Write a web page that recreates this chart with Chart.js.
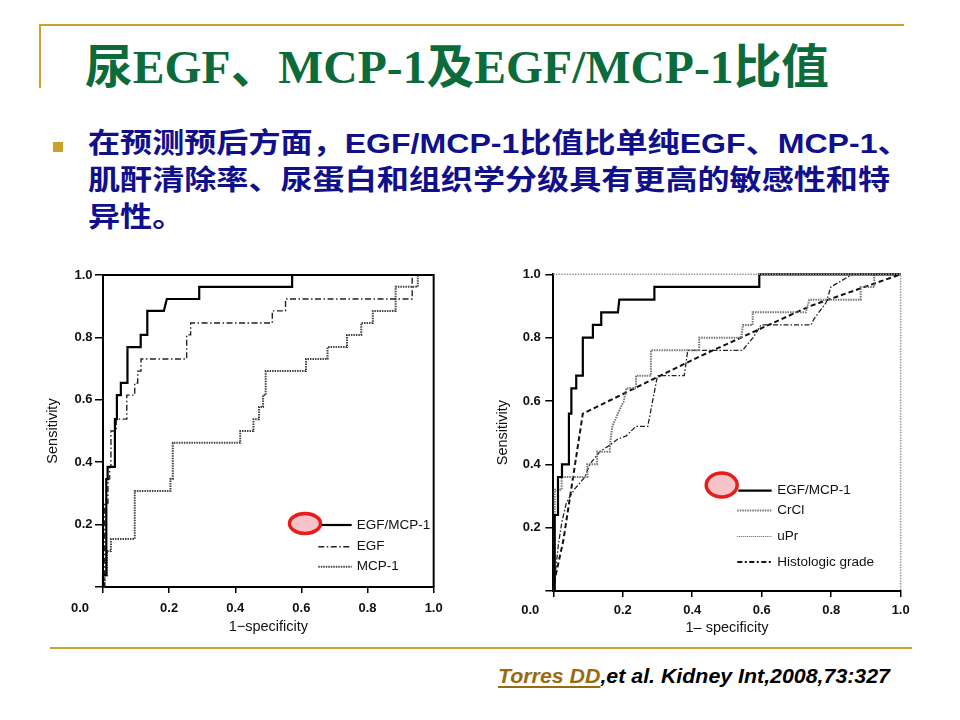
<!DOCTYPE html>
<html><head><meta charset="utf-8">
<script src="https://cdn.jsdelivr.net/npm/chart.js@4.4.1/dist/chart.umd.min.js"></script>
<style>
html,body{margin:0;padding:0;background:#fff;}
#slide{position:relative;width:960px;height:720px;overflow:hidden;background:#fff;font-family:"Liberation Sans",Arial,"Noto Sans CJK SC",sans-serif;}
.hline{position:absolute;height:2px;background:#c9a42c;}
.vline{position:absolute;width:2px;background:#c9a42c;}
#title{position:absolute;left:85px;top:39px;font-family:"Liberation Serif","Times New Roman","Noto Sans CJK SC",serif;font-weight:bold;font-size:47px;line-height:56px;color:#0b6b3b;white-space:nowrap;transform-origin:0 0;}
#bullet{position:absolute;left:53px;top:142px;width:10px;height:10px;background:#c9a22a;}
.body{position:absolute;left:88px;font-weight:bold;font-size:28px;line-height:37px;height:37px;color:#10108c;white-space:nowrap;transform-origin:0 0;font-family:"Liberation Sans",Arial,"Noto Sans CJK SC",sans-serif;}
#cite{position:absolute;left:498px;top:664px;font-size:20px;line-height:24px;font-weight:bold;font-style:italic;white-space:nowrap;color:#000;transform-origin:0 0;}
#cite u{color:#9a6a10;text-decoration-thickness:1.5px;text-underline-offset:3px;}
.cwrap{position:absolute;}
</style></head>
<body><div id="slide">
<div class="hline" style="left:40px;top:24px;width:864px;"></div>
<div class="vline" style="left:39px;top:24px;height:64px;"></div>
<div id="title">尿EGF、MCP-1及EGF/MCP-1比值</div>
<div id="bullet"></div>
<div class="body" id="b1" style="top:125px;">在预测预后方面，EGF/MCP-1比值比单纯EGF、MCP-1、</div>
<div class="body" id="b2" style="top:162px;">肌酐清除率、尿蛋白和组织学分级具有更高的敏感性和特</div>
<div class="body" id="b3" style="top:199px;">异性。</div>
<div class="cwrap" style="left:40px;top:262px;"><canvas id="cL" width="410" height="380"></canvas></div>
<div class="cwrap" style="left:490px;top:262px;"><canvas id="cR" width="425" height="380"></canvas></div>
<div class="hline" style="left:50px;top:647px;width:862px;"></div>
<div id="cite"><u>Torres DD</u>,et al. Kidney Int,2008,73:327</div>
</div>
<script>
// ---------- data ----------
const tickLabels = ['0.0','0.2','0.4','0.6','0.8','1.0'];
const xTitleL = '1\u2212specificity';
const xTitleR = '1\u2013 specificity';
const yTitle = 'Sensitivity';

// Left chart
const leftRatioFpr = [0,0,0.01,0.01,0.014,0.014,0.036,0.036,0.042,0.042,0.054,0.054,0.074,0.074,0.114,0.114,0.134,0.134,0.184,0.193,0.291,0.291,0.572,0.572,1.0];
const leftRatioTpr = [0,0.038,0.038,0.346,0.346,0.385,0.385,0.538,0.538,0.615,0.615,0.654,0.654,0.769,0.769,0.808,0.808,0.885,0.885,0.923,0.923,0.962,0.962,1.0,1.0];
const leftEgfFpr = [0,0.005,0.005,0.015,0.015,0.02,0.02,0.024,0.024,0.04,0.04,0.072,0.072,0.096,0.096,0.105,0.105,0.115,0.115,0.253,0.253,0.265,0.265,0.512,0.512,0.552,0.552,0.935,0.935,1.0];
const leftEgfTpr = [0,0,0.269,0.269,0.346,0.346,0.385,0.385,0.5,0.5,0.538,0.538,0.615,0.615,0.654,0.654,0.692,0.692,0.731,0.731,0.808,0.808,0.846,0.846,0.885,0.885,0.923,0.923,1.0,1.0];
const leftMcpFpr = [0,0.005,0.005,0.012,0.012,0.024,0.024,0.096,0.096,0.204,0.204,0.211,0.211,0.415,0.415,0.455,0.455,0.472,0.472,0.484,0.484,0.492,0.492,0.614,0.614,0.679,0.679,0.738,0.738,0.781,0.781,0.816,0.816,0.885,0.885,0.952,0.952,1.0];
const leftMcpTpr = [0,0,0.038,0.038,0.115,0.115,0.154,0.154,0.308,0.308,0.346,0.346,0.462,0.462,0.5,0.5,0.538,0.538,0.577,0.577,0.615,0.615,0.692,0.692,0.731,0.731,0.769,0.769,0.808,0.808,0.846,0.846,0.885,0.885,0.962,0.962,1.0,1.0];
const leftLabels = ['EGF/MCP-1','EGF','MCP-1'];

// Right chart
const rightRatioFpr = [0,0.004,0.004,0.0135,0.0135,0.025,0.025,0.045,0.045,0.052,0.052,0.066,0.066,0.085,0.085,0.114,0.114,0.138,0.138,0.186,0.19,0.291,0.291,0.593,0.593,1.0];
const rightRatioTpr = [0,0,0.24,0.24,0.36,0.36,0.40,0.40,0.56,0.56,0.64,0.64,0.68,0.68,0.80,0.80,0.84,0.84,0.88,0.88,0.92,0.92,0.96,0.96,1.0,1.0];
const rightCrclFpr = [0,0.004,0.004,0.024,0.024,0.098,0.098,0.126,0.126,0.162,0.165,0.17,0.186,0.203,0.21,0.238,0.238,0.281,0.281,0.42,0.42,0.541,0.546,0.574,0.574,0.727,0.737,0.885,0.885,0.924,0.924,1.0];
const rightCrclTpr = [0,0,0.32,0.32,0.36,0.36,0.40,0.40,0.44,0.44,0.48,0.52,0.56,0.60,0.64,0.64,0.68,0.68,0.76,0.76,0.80,0.80,0.84,0.84,0.88,0.88,0.92,0.92,0.96,0.96,1.0,1.0];
const rightUprFpr = [0,0.005,0.015,0.025,0.038,0.06,0.091,0.105,0.134,0.162,0.186,0.21,0.238,0.272,0.286,0.30,0.377,0.387,0.545,0.575,0.598,0.742,0.751,0.785,0.799,0.861,1.0];
const rightUprTpr = [0,0.05,0.15,0.22,0.28,0.32,0.36,0.40,0.44,0.46,0.48,0.49,0.52,0.52,0.60,0.68,0.68,0.76,0.76,0.80,0.84,0.84,0.86,0.91,0.96,1.0,1.0];
const rightHistFpr = [0,0.005,0.029,0.085,0.42,0.74,1.0];
const rightHistTpr = [0,0.04,0.16,0.56,0.74,0.90,1.0];
const rightLabels = ['EGF/MCP-1','CrCl','uPr','Histologic grade'];

// ---------- helpers ----------
const pts = (xs, ys) => xs.map((x, i) => ({x: x, y: ys[i]}));
const FONT = '"Liberation Sans", Arial, sans-serif';

function ds(label, xs, ys, color, width, dash, legendStyle) {
  return {label, data: pts(xs, ys), borderColor: color, borderWidth: width, borderDash: dash,
    showLine: true, pointRadius: 0, fill: false, tension: 0, clip: 4, legendStyle};
}

const decor = {
  id: 'decor',
  afterDatasetsDraw(chart, args, o) {
    const {ctx, chartArea: a} = chart;
    ctx.save();
    if (o.frame === 'solid') {
      ctx.strokeStyle = '#000'; ctx.lineWidth = 2; ctx.setLineDash([]);
      ctx.beginPath(); ctx.moveTo(a.left, a.top); ctx.lineTo(a.right, a.top); ctx.lineTo(a.right, a.bottom); ctx.stroke();
    } else {
      ctx.strokeStyle = '#999'; ctx.lineWidth = 1.5; ctx.setLineDash([1.5, 1.2]);
      ctx.beginPath(); ctx.moveTo(a.left, a.top); ctx.lineTo(a.right, a.top); ctx.lineTo(a.right, a.bottom); ctx.stroke();
    }
    ctx.setLineDash([]);
    ctx.font = 'bold 13px ' + FONT; ctx.fillStyle = '#111';
    ctx.textAlign = 'center'; ctx.textBaseline = 'middle';
    ctx.fillText(o.corner, a.left + o.cornerDx, a.bottom + o.cornerDy);
    // ellipse highlight
    const e = o.ellipse;
    ctx.beginPath(); ctx.ellipse(e.x, e.y, e.rx, e.ry, 0, 0, Math.PI * 2);
    ctx.fillStyle = '#f6c4c8'; ctx.fill();
    ctx.lineWidth = 3.5; ctx.strokeStyle = '#e81c1c'; ctx.stroke();
    // legend
    const L = o.legend;
    chart.data.datasets.forEach((d, i) => {
      const st = d.legendStyle || {};
      const y = L.ys[i];
      ctx.strokeStyle = st.color || d.borderColor; ctx.lineWidth = st.width || d.borderWidth;
      ctx.setLineDash(st.dash || d.borderDash || []);
      ctx.beginPath(); ctx.moveTo(L.x0[i], y); ctx.lineTo(L.x1, y); ctx.stroke();
      ctx.setLineDash([]);
      ctx.font = '13.5px ' + FONT; ctx.fillStyle = '#111'; ctx.textAlign = 'left'; ctx.textBaseline = 'middle';
      ctx.fillText(d.label, L.tx, y);
    });
    ctx.restore();
  }
};

function axes(cfg) {
  const grid = (len) => ({display: true, drawOnChartArea: false, drawTicks: true, tickLength: len, color: '#000', lineWidth: 1.5});
  return {
    x: {type: 'linear', min: 0, max: 1,
      afterFit: s => { s.height = cfg.xh; },
      ticks: {stepSize: 0.2, autoSkip: false, padding: cfg.xpad, color: '#111', font: {family: FONT, size: 13, weight: 'bold'},
        callback: (v, i) => (i === 0 ? '' : tickLabels[i])},
      grid: grid(6), border: {display: true, color: '#000', width: 2},
      title: {display: true, text: cfg.xTitle, color: '#111', font: {family: FONT, size: 14.5}, padding: {top: 0, bottom: cfg.xtp}}},
    y: {type: 'linear', min: 0, max: 1,
      afterFit: s => { s.width = cfg.yw; },
      ticks: {stepSize: 0.2, autoSkip: false, padding: cfg.ypad, color: '#111', font: {family: FONT, size: 13, weight: 'bold'},
        callback: (v, i) => (i === 0 ? '' : tickLabels[i])},
      grid: grid(8), border: {display: true, color: '#000', width: 2},
      title: {display: true, text: yTitle, color: '#111', font: {family: FONT, size: 14.5}, padding: {top: cfg.ytp, bottom: 0}}}
  };
}

new Chart(document.getElementById('cL'), {
  type: 'scatter',
  data: {datasets: [
    ds(leftLabels[0], leftRatioFpr, leftRatioTpr, '#000', 2.2, []),
    ds(leftLabels[1], leftEgfFpr, leftEgfTpr, '#222', 1.4, [6, 2.5, 1.5, 2.5]),
    ds(leftLabels[2], leftMcpFpr, leftMcpTpr, '#444', 2, [1.5, 1])
  ]},
  options: {
    responsive: false, animation: false,
    layout: {padding: {left: 0, right: 12, top: 13, bottom: 0}},
    scales: axes({xh: 55, yw: 63, xpad: 7.3, ypad: 2.5, xtp: 6.2, ytp: 4, xTitle: xTitleL}),
    plugins: {legend: {display: false}, tooltip: {enabled: false},
      decor: {frame: 'solid', corner: tickLabels[0], cornerDx: -23, cornerDy: 21,
        ellipse: {x: 265, y: 261.5, rx: 15.5, ry: 10},
        legend: {x0: [281.7, 278.3, 278.3], x1: 311.7, tx: 316.7, ys: [263, 284.7, 304.7]}}}
  },
  plugins: [decor]
});

new Chart(document.getElementById('cR'), {
  type: 'scatter',
  data: {datasets: [
    ds(rightLabels[0], rightRatioFpr, rightRatioTpr, '#000', 2.2, []),
    ds(rightLabels[1], rightCrclFpr, rightCrclTpr, '#777', 2, [1.5, 1]),
    ds(rightLabels[2], rightUprFpr, rightUprTpr, '#222', 1.3, [5, 2, 1.5, 2], {dash: [1, 1], width: 1, color: '#555'}),
    ds(rightLabels[3], rightHistFpr, rightHistTpr, '#111', 2, [5, 3], {dash: [5, 2.5, 2, 2.5], width: 1.8})
  ]},
  options: {
    responsive: false, animation: false,
    layout: {padding: {left: 0, right: 13.3, top: 12, bottom: 0}},
    scales: axes({xh: 51, yw: 63.3, xpad: 5.3, ypad: 4.5, xtp: 5.2, ytp: 4.3, xTitle: xTitleR}),
    plugins: {legend: {display: false}, tooltip: {enabled: false},
      decor: {frame: 'dotted', corner: tickLabels[0], cornerDx: -23, cornerDy: 19,
        ellipse: {x: 231.7, y: 223, rx: 15.5, ry: 12},
        legend: {x0: [248.3, 247.3, 247.3, 247.3], x1: 281.7, tx: 287.3, ys: [228.7, 248.5, 274.5, 300]}}}
  },
  plugins: [decor]
});

// fit text widths to the slide
function fitText() {
  const fit = (el, w) => { el.style.transform = 'none'; const s = w / el.getBoundingClientRect().width; el.style.transform = 'scaleX(' + s + ')'; return s; };
  fit(document.getElementById('title'), 744);
  const b2 = document.getElementById('b2');
  const s = fit(b2, 802);
  ['b1','b3'].forEach(id => { document.getElementById(id).style.transform = 'scaleX(' + s + ')'; });
  fit(document.getElementById('cite'), 392);
}
fitText();
if (document.fonts && document.fonts.ready) document.fonts.ready.then(fitText);
</script>
</body></html>
